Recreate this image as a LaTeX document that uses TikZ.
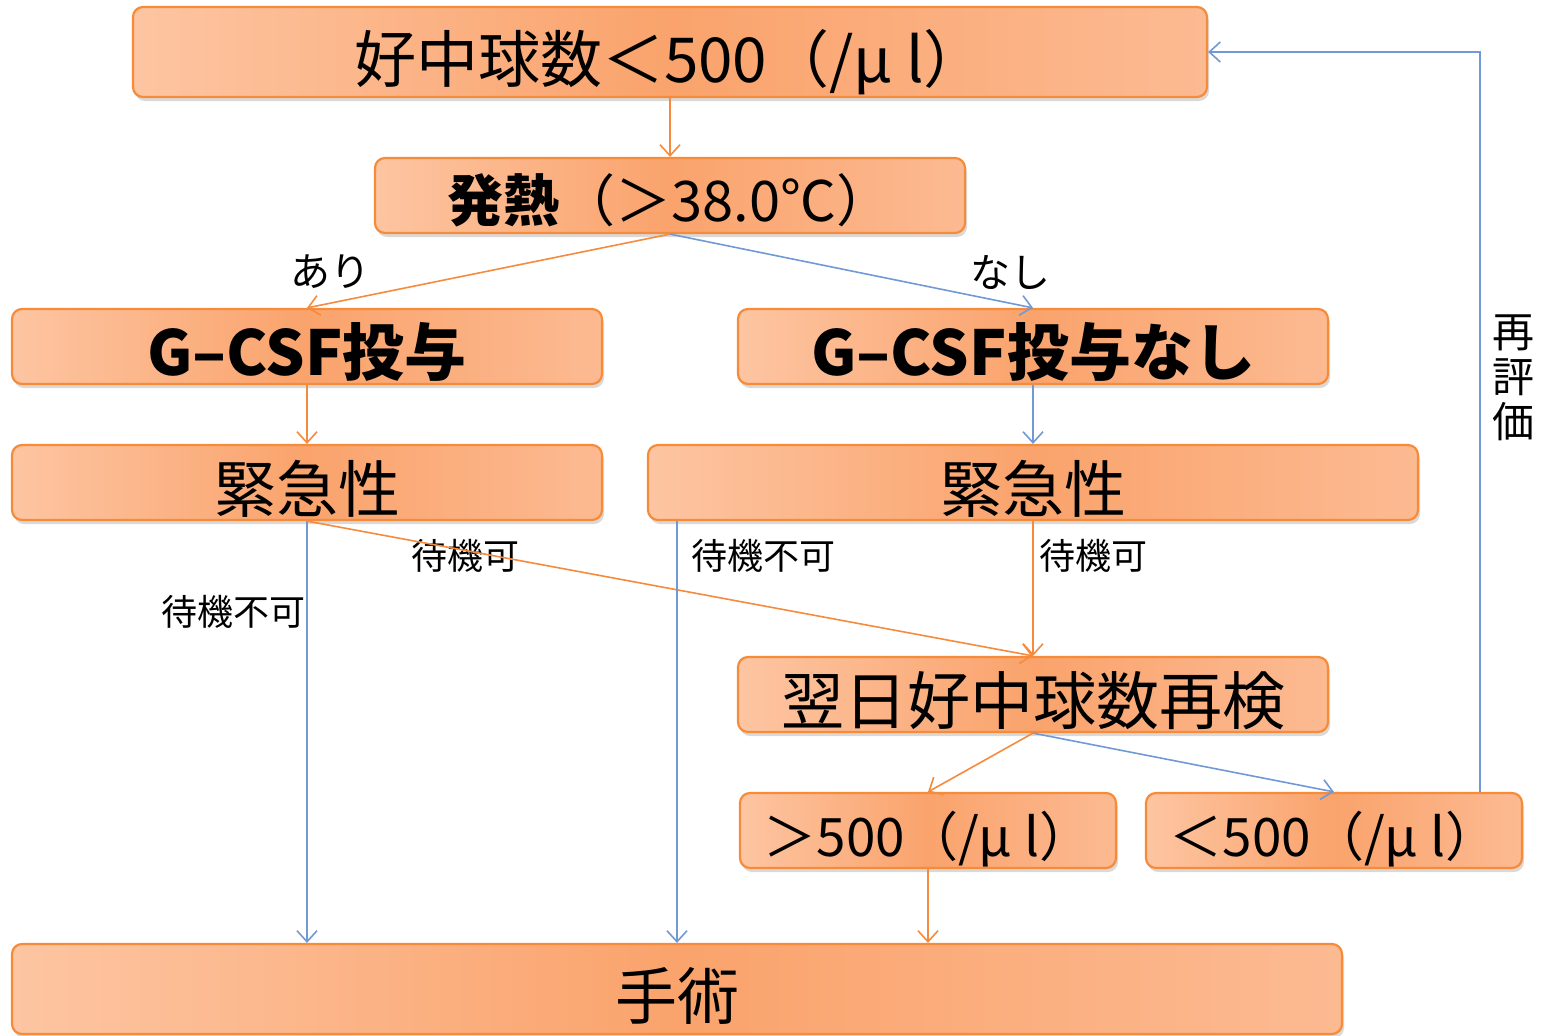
\documentclass[tikz,border=0pt]{standalone}
\usepackage{fontspec}
\setmainfont{Noto Sans CJK JP}
\usetikzlibrary{arrows.meta,shadows,calc}
\definecolor{boxline}{HTML}{F68B3A}
\definecolor{lorange}{HTML}{FDC5A2}
\definecolor{morange}{HTML}{FAA36C}
\definecolor{rorange}{HTML}{FCBA92}
\definecolor{lineor}{HTML}{F68B3D}
\definecolor{lineblue}{HTML}{7199D6}
\tikzset{
  fbox/.style={draw=boxline, line width=2.2pt, rounded corners=10pt,
    left color=lorange, right color=rorange, middle color=morange,
    drop shadow={shadow xshift=2pt, shadow yshift=-4pt, opacity=0.25, fill=black!60},
    inner sep=0pt, text=black},
  arrO/.style={draw=lineor, line width=1.6pt, -{Straight Barb[length=11pt,width=20pt,line width=1.6pt]}},
  arrB/.style={draw=lineblue, line width=1.6pt, -{Straight Barb[length=11pt,width=20pt,line width=1.6pt]}},
  lab/.style={inner sep=0pt, font=\fontsize{36}{40}\selectfont},
  labbig/.style={inner sep=0pt, font=\fontsize{40}{44}\selectfont},
}
\begin{document}
\begin{tikzpicture}[x=1pt,y=-1pt]
\useasboundingbox (0,0) rectangle (1550,1036);
% boxes
\node[fbox, minimum width=1074pt, minimum height=90pt, font=\fontsize{62}{66}\selectfont, text height=68.6pt, text depth=7.4pt] (top) at (670,52) {好中球数＜500（/μ l）};
\node[fbox, minimum width=590pt, minimum height=75pt, font=\fontsize{56}{60}\selectfont, text height=59.3pt, text depth=6.7pt] (fev) at (670,195.5) {\textbf{発熱}（＞38.0℃）};
\node[fbox, minimum width=590pt, minimum height=75pt, font=\fontsize{62}{66}\selectfont\bfseries, text height=64.6pt, text depth=7.4pt] (gcsf) at (307,346.5) {G–CSF投与};
\node[fbox, minimum width=590pt, minimum height=75pt, font=\fontsize{62}{66}\selectfont\bfseries, text height=64.6pt, text depth=7.4pt] (nogcsf) at (1033,346.5) {G–CSF投与なし};
\node[fbox, minimum width=590pt, minimum height=75pt, font=\fontsize{62}{66}\selectfont, text height=66.6pt, text depth=7.4pt] (urgL) at (307,482.5) {緊急性};
\node[fbox, minimum width=770pt, minimum height=75pt, font=\fontsize{62}{66}\selectfont, text height=66.6pt, text depth=7.4pt] (urgR) at (1033,482.5) {緊急性};
\node[fbox, minimum width=590pt, minimum height=75pt, font=\fontsize{63}{66}\selectfont, text height=67.4pt, text depth=7.6pt] (next) at (1033,694.5) {翌日好中球数再検};
\node[fbox, minimum width=376pt, minimum height=75pt, font=\fontsize{53}{58}\selectfont, text height=58.6pt, text depth=6.4pt] (gt) at (928,830.5) {＞500（/μ l）};
\node[fbox, minimum width=376pt, minimum height=75pt, font=\fontsize{53}{58}\selectfont, text height=58.6pt, text depth=6.4pt] (lt) at (1334,830.5) {＜500（/μ l）};
\node[fbox, minimum width=1330pt, minimum height=90pt, font=\fontsize{62}{66}\selectfont, text height=68.6pt, text depth=7.4pt] (surg) at (677,989) {手術};
% labels
\node[labbig] (lAri) at (330,272) {あり};
\node[labbig] (lNashi) at (1010,272) {なし};
\node[lab] (lW1) at (233,612) {待機不可};
\node[lab] (lW2) at (465,556) {待機可};
\node[lab] (lW3) at (763,556) {待機不可};
\node[lab] (lW4) at (1093,556) {待機可};
\node[labbig, align=center, font=\fontsize{42}{45}\selectfont] (lRe) at (1513,378) {再\\評\\価};
% connectors
\draw[arrO] (top.south) -- (fev.north);
\draw[arrO] (fev.south) -- (gcsf.north);
\draw[arrB] (fev.south) -- (nogcsf.north);
\draw[arrO] (gcsf.south) -- (urgL.north);
\draw[arrB] (nogcsf.south) -- (urgR.north);
\draw[arrB] (urgL.south) -- (urgL.south |- surg.north);
\draw[arrO] (urgL.south) -- (next.north);
\draw[arrB] (urgR.south -| surg.north) -- (surg.north);
\draw[arrO] (urgR.south) -- (next.north);
\draw[arrO] (next.south) -- (gt.north);
\draw[arrB] (next.south) -- (lt.north);
\draw[arrO] (gt.south) -- (gt.south |- surg.north);
\coordinate (ret) at ($(lt.north east)+(-43,0)$);
\draw[arrB] (ret) |- (top.east);
\end{tikzpicture}
\end{document}
